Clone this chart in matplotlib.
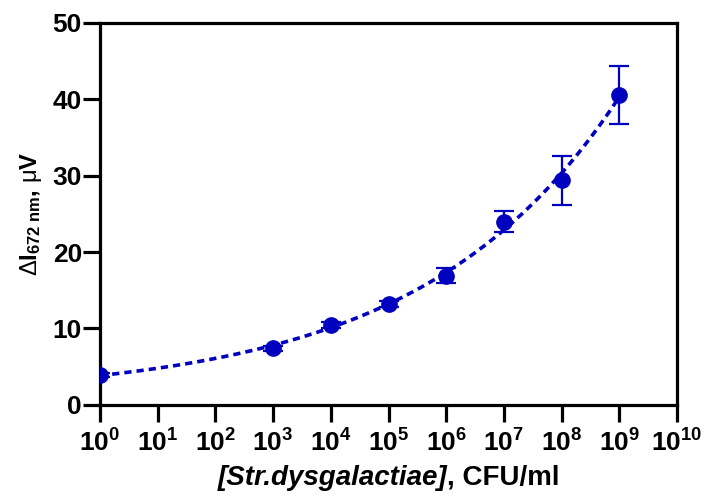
import numpy as np
import matplotlib
matplotlib.use('Agg')
import matplotlib.pyplot as plt
from matplotlib.ticker import FixedLocator, FuncFormatter

plt.rcParams['font.family'] = ['Liberation Sans', 'DejaVu Sans']
plt.rcParams['font.weight'] = 'bold'
plt.rcParams['mathtext.fontset'] = 'custom'
plt.rcParams['mathtext.rm'] = 'Liberation Sans:weight=normal'
plt.rcParams['mathtext.it'] = 'Liberation Sans:style=italic:weight=normal'
plt.rcParams['mathtext.bf'] = 'Liberation Sans:weight=bold'

# ── data ─────────────────────────────────────────────
conc   = [1e0, 1e3, 1e4, 1e5, 1e6, 1e7, 1e8, 1e9]
signal = [3.9, 7.4, 10.5, 13.2, 16.9, 24.0, 29.4, 40.6]
err    = [0.3, 0.3, 0.4, 0.4, 1.0, 1.4, 3.2, 3.8]

BLUE = '#0000BF'

# exponential fit  y = A*exp(k*log10(x)) + C
t = np.log10(conc)
y = np.array(signal)
best = None
for k in np.linspace(0.05, 1.0, 400):
    M = np.column_stack([np.exp(k * t), np.ones_like(t)])
    coef, res, *_ = np.linalg.lstsq(M, y, rcond=None)
    sse = np.sum((M @ coef - y) ** 2)
    if best is None or sse < best[0]:
        best = (sse, k, coef)
_, k_fit, (A_fit, C_fit) = best
t_fit = np.linspace(0, 9, 200)
y_fit = A_fit * np.exp(k_fit * t_fit) + C_fit

fig = plt.figure(figsize=(7.09, 4.98), dpi=100)
ax = fig.add_axes([0.141, 0.187, 0.814, 0.767])

ax.plot(10 ** t_fit, y_fit, color=BLUE, lw=2.6, ls=(0, (2.0, 1.4)), zorder=2)
ax.errorbar(conc, signal, yerr=err, fmt='o', color=BLUE, ms=11,
            elinewidth=1.6, capsize=7, capthick=1.6, zorder=3)

ax.set_xscale('log')
ax.set_xlim(1, 1e10)
ax.set_ylim(0, 50)
ax.xaxis.set_major_locator(FixedLocator([10.0 ** i for i in range(11)]))
ax.xaxis.set_minor_locator(FixedLocator([]))
ax.xaxis.set_major_formatter(FuncFormatter(
    lambda v, p: r'$\mathbf{10^{%d}}$' % round(np.log10(v))))
ax.set_yticks([0, 10, 20, 30, 40, 50])

for s in ax.spines.values():
    s.set_linewidth(2.3)
ax.tick_params(axis='x', which='major', direction='out', length=12,
               width=2.3, labelsize=19, pad=6)
ax.tick_params(axis='y', which='major', direction='out', length=12,
               width=2.3, labelsize=19, pad=1)
for lbl in ax.get_yticklabels():
    lbl.set_fontweight('bold')

ax.set_ylabel(r'$\Delta\mathbf{I}_{\mathbf{672\ nm}}\mathbf{,}\ \mathrm{\mu}\mathbf{V}$',
              fontsize=17, labelpad=6)

# x label: italic part + upright part, centred under axes
renderer = fig.canvas.get_renderer()
t1 = fig.text(0, 0.027, '[Str.dysgalactiae]', fontsize=20,
              fontweight='bold', style='italic', va='baseline')
t2 = fig.text(0, 0.027, ', CFU/ml', fontsize=20, fontweight='bold',
              va='baseline')
w1 = t1.get_window_extent(renderer).width / fig.bbox.width
w2 = t2.get_window_extent(renderer).width / fig.bbox.width
x0 = 0.141 + 0.814 / 2 - (w1 + w2) / 2
t1.set_x(x0)
t2.set_x(x0 + w1)

plt.savefig('out.png', dpi=100)
plt.close()
